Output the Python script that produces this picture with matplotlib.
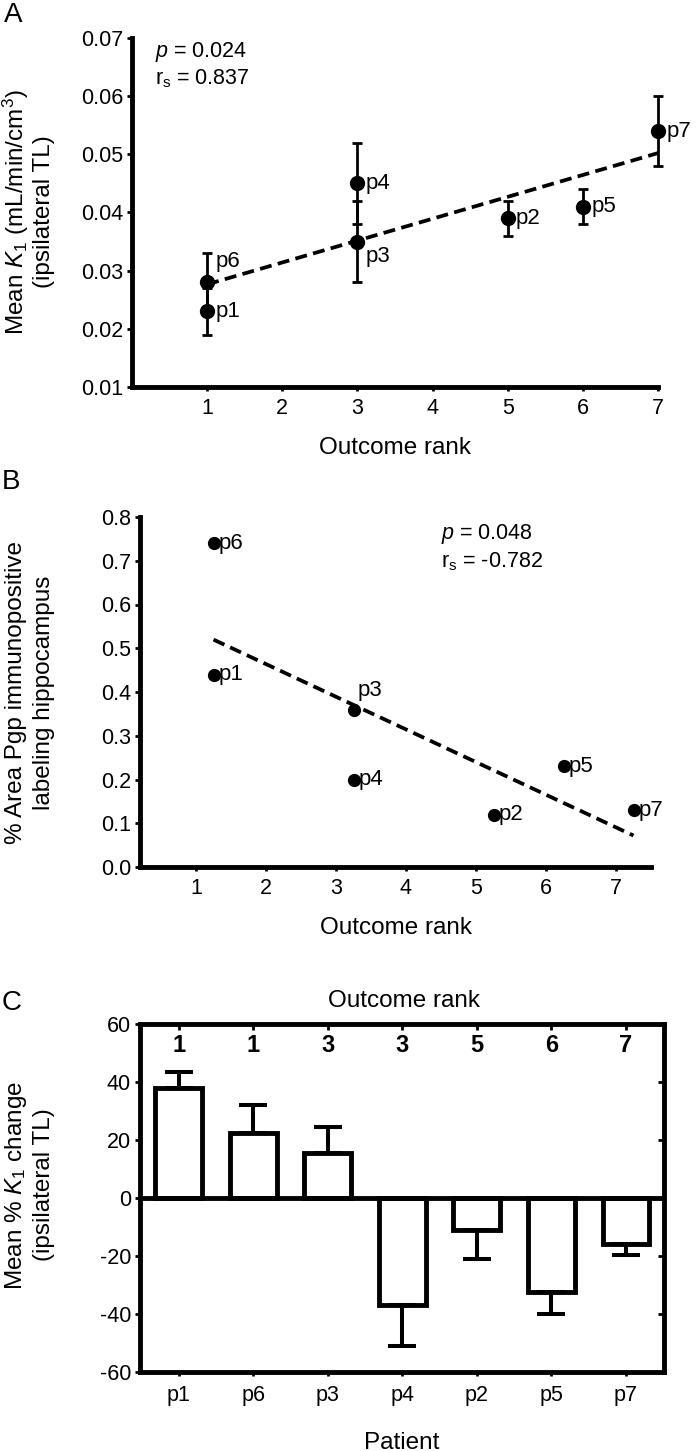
import numpy as np
import matplotlib
matplotlib.use("Agg")
import matplotlib.pyplot as plt

plt.rcParams['font.family'] = ['Liberation Sans', 'DejaVu Sans']
plt.rcParams['mathtext.fontset'] = 'custom'
plt.rcParams['mathtext.it'] = 'Liberation Sans:italic'
plt.rcParams['mathtext.rm'] = 'Liberation Sans'
plt.rcParams['axes.unicode_minus'] = False

# ---------------- data ----------------
# Panel A
a_labels = ["p1", "p6", "p3", "p4", "p2", "p5", "p7"]
a_rank = [1, 1, 3, 3, 5, 6, 7]
a_k1 = [0.023, 0.028, 0.035, 0.045, 0.039, 0.041, 0.054]
a_err = [0.004, 0.005, 0.007, 0.007, 0.003, 0.003, 0.006]

# Panel B
b_labels = ["p1", "p6", "p3", "p4", "p2", "p5", "p7"]
b_rank = [1.25, 1.25, 3.25, 3.25, 5.25, 6.25, 7.25]
b_pgp = [0.44, 0.74, 0.36, 0.20, 0.12, 0.23, 0.13]

# Panel C
c_patients = ["p1", "p6", "p3", "p4", "p2", "p5", "p7"]
c_rank = ["1", "1", "3", "3", "5", "6", "7"]
c_change = [38, 22.5, 15.5, -37, -11, -32.5, -16]
c_err = [5.5, 9.5, 9, 14, 10, 7.5, 3.5]

W, H = 697, 1451
fig = plt.figure(figsize=(W / 100, H / 100), dpi=100)


def ax_px(left, top, right, bottom):
    return fig.add_axes([left / W, 1 - bottom / H, (right - left) / W, (bottom - top) / H])


def ftext(x, y, s, **kw):
    fig.text(x / W, 1 - y / H, s, **kw)


def noclip(container):
    for child in container.get_children():
        child.set_clip_on(False)


SPW = 3.5
TICK = 15.5
LAB = 17.5
PLAB = 16
DASH = (0, (3.2, 1.7))

# ---------------- Panel A ----------------
axA = ax_px(132, 38, 658, 387)
ebA = axA.errorbar(a_rank, a_k1, yerr=a_err, fmt='o', color='black', ms=10,
                   elinewidth=2.0, capsize=3.6, capthick=2.0, zorder=3)
noclip(ebA)
coef = np.polyfit(a_rank, a_k1, 1)
xs = np.array([min(a_rank), max(a_rank)])
axA.plot(xs, np.polyval(coef, xs), ls=DASH, color='black', lw=2.7, zorder=2, clip_on=False)
a_off = {"p1": (6, 0), "p6": (6, 15), "p3": (6, -11), "p4": (6, 0),
         "p2": (6, 0), "p5": (6, 0), "p7": (6, 0)}
for lab, x, y in zip(a_labels, a_rank, a_k1):
    axA.annotate(lab, (x, y), xytext=a_off[lab], textcoords='offset points',
                 ha='left', va='center', fontsize=PLAB, annotation_clip=False)
axA.set_xlim(0.0, 7.0)
axA.set_ylim(0.01, 0.07)
axA.set_xticks(range(1, 8))
axA.set_yticks([0.01, 0.02, 0.03, 0.04, 0.05, 0.06, 0.07])
axA.set_yticklabels(["0.01", "0.02", "0.03", "0.04", "0.05", "0.06", "0.07"])
axA.text(0.3, 0.0676, "$p$ = 0.024", fontsize=15.5, ha='left', va='center')
axA.text(0.3, 0.0630, "r$_\\mathrm{s}$ = 0.837", fontsize=15.5, ha='left', va='center')
axA.set_xlabel("Outcome rank", fontsize=LAB, labelpad=13)

# ---------------- Panel B ----------------
axB = ax_px(140, 517, 651, 867)
axB.plot(b_rank, b_pgp, 'o', color='black', ms=8.5, zorder=3)
coefb = np.polyfit(b_rank, b_pgp, 1)
xsb = np.array([min(b_rank), max(b_rank)])
axB.plot(xsb, np.polyval(coefb, xsb), ls=DASH, color='black', lw=2.7, zorder=2)
b_off = {"p1": (4, 0), "p6": (4, 0), "p3": (3, 14), "p4": (4, 0),
         "p2": (4, 0), "p5": (4, 0), "p7": (4, 0)}
for lab, x, y in zip(b_labels, b_rank, b_pgp):
    axB.annotate(lab, (x, y), xytext=b_off[lab], textcoords='offset points',
                 ha='left', va='center', fontsize=PLAB, annotation_clip=False)
axB.set_xlim(0.2, 7.5)
axB.set_ylim(0.0, 0.8)
axB.set_xticks(range(1, 8))
axB.set_yticks(np.arange(0, 0.81, 0.1))
axB.set_yticklabels(["0.0", "0.1", "0.2", "0.3", "0.4", "0.5", "0.6", "0.7", "0.8"])
axB.text(4.5, 0.76, "$p$ = 0.048", fontsize=15.5, ha='left', va='center')
axB.text(4.5, 0.697, "r$_\\mathrm{s}$ = -0.782", fontsize=15.5, ha='left', va='center')
axB.set_xlabel("Outcome rank", fontsize=LAB, labelpad=13)

for ax in (axA, axB):
    for s in ('top', 'right'):
        ax.spines[s].set_visible(False)
    for s in ('left', 'bottom'):
        ax.spines[s].set_linewidth(SPW)
    ax.tick_params(axis='y', direction='out', length=3.5, width=2, labelsize=TICK, pad=3)
    ax.tick_params(axis='x', direction='out', length=3, width=2, labelsize=TICK, pad=5)

# ---------------- Panel C ----------------
axC = ax_px(140, 1024, 664, 1372)
xc = np.arange(len(c_patients))
c_arr = np.array(c_change)
e_arr = np.array(c_err)
lower = np.where(c_arr < 0, e_arr, 0)
upper = np.where(c_arr > 0, e_arr, 0)
axC.bar(xc, c_change, width=0.63, facecolor='white', edgecolor='black', linewidth=SPW, zorder=2)
axC.errorbar(xc, c_change, yerr=[lower, upper], fmt='none', ecolor='black',
             elinewidth=2.9, capsize=10, capthick=2.9, zorder=3)
axC.axhline(0, color='black', lw=SPW, zorder=4)
axC.set_xlim(-0.52, 6.51)
axC.set_ylim(-60, 60)
axC.set_xticks(xc)
axC.set_xticklabels(c_patients)
axC.set_yticks([-60, -40, -20, 0, 20, 40, 60])
for i, r in enumerate(c_rank):
    axC.text(xc[i], 52.6, r, fontsize=17, fontweight='bold', ha='center', va='center')
for s in axC.spines.values():
    s.set_linewidth(SPW)
axC.tick_params(axis='y', direction='out', length=3.5, width=2, labelsize=TICK, pad=3)
axC.tick_params(axis='x', direction='out', length=3, width=2, labelsize=TICK, pad=6)
sec_r = axC.secondary_yaxis('right')
sec_r.set_yticks([-40, -20, 20, 40])
sec_r.tick_params(direction='in', length=4, width=2, labelright=False)
sec_r.spines['right'].set_visible(False)
sec_t = axC.secondary_xaxis('top')
sec_t.set_xticks(xc)
sec_t.tick_params(direction='in', length=4, width=2, labeltop=False)
sec_t.spines['top'].set_visible(False)
axC.set_xlabel("Patient", fontsize=LAB, labelpad=19)
ftext(404, 1001, "Outcome rank", fontsize=LAB, ha='center', va='center')

# ---------------- panel letters & y labels ----------------
ftext(13, 15, "A", fontsize=20, ha='center', va='center')
ftext(11, 482, "B", fontsize=20, ha='center', va='center')
ftext(12, 1003, "C", fontsize=20, ha='center', va='center')

ftext(16, 212, "Mean $K_1$ (mL/min/cm$^3$)", fontsize=LAB, rotation=90, ha='center', va='center')
ftext(44, 212, "(ipsilateral TL)", fontsize=LAB, rotation=90, ha='center', va='center')
ftext(16, 693, "% Area Pgp immunopositive", fontsize=LAB, rotation=90, ha='center', va='center')
ftext(44, 693, "labeling hippocampus", fontsize=LAB, rotation=90, ha='center', va='center')
ftext(16, 1185, "Mean % $K_1$ change", fontsize=LAB, rotation=90, ha='center', va='center')
ftext(44, 1185, "(ipsilateral TL)", fontsize=LAB, rotation=90, ha='center', va='center')

fig.savefig("out.png", dpi=100)
